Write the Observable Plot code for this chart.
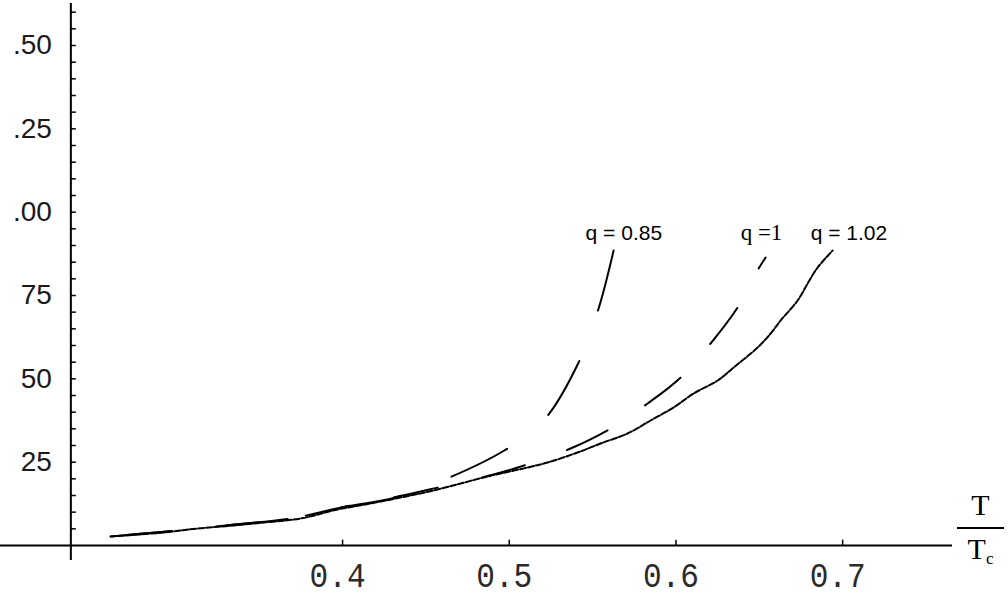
<!DOCTYPE html>
<html>
<head>
<meta charset="utf-8">
<script src="https://cdn.jsdelivr.net/npm/d3@7"></script>
<script src="https://cdn.jsdelivr.net/npm/@observablehq/plot@0.6"></script>
<style>
  html, body { margin: 0; padding: 0; background: #fff; }
  #wrap { position: relative; width: 1008px; height: 598px; overflow: hidden; }
  #frac { position: absolute; left: 957px; top: 490px; width: 47px; font-family: "Liberation Serif", serif; color: #000; text-align: center; }
  #frac .num { font-size: 30px; line-height: 30px; padding-bottom: 7px; border-bottom: 2px solid #000; }
  #frac .den { font-size: 30px; line-height: 30px; margin-top: 5px; }
  #frac .den span { font-size: 17px; vertical-align: -5px; }
</style>
</head>
<body>
<div id="wrap">
  <div id="chart"></div>
  <div id="frac"><div class="num">T</div><div class="den">T<span>c</span></div></div>
</div>
<script>
// ---- data ----
// q = 0.85 (from top end downwards)
const q085T = [0.5626, 0.5536, 0.5416, 0.5206, 0.496, 0.454, 0.43, 0.40, 0.37, 0.33, 0.29, 0.261];
const q085V = [0.885, 0.711, 0.549, 0.375, 0.282, 0.183, 0.142, 0.115, 0.082, 0.060, 0.040, 0.027];
// q = 1 (from top end downwards)
const q1T = [0.6538, 0.6496, 0.637, 0.6208, 0.6028, 0.583, 0.5608, 0.5368, 0.515, 0.49, 0.46, 0.43, 0.40, 0.37, 0.33, 0.29, 0.261];
const q1V = [0.864, 0.831, 0.714, 0.606, 0.504, 0.426, 0.351, 0.291, 0.250, 0.212, 0.177, 0.143, 0.115, 0.082, 0.060, 0.040, 0.027];
// q = 1.02 (from low end upwards)
const q102T = [0.2608, 0.2926, 0.313, 0.3346, 0.3526, 0.3748, 0.397, 0.4168, 0.4408, 0.4546, 0.4708, 0.4846, 0.4948, 0.511, 0.523, 0.541, 0.5548, 0.571, 0.5848, 0.5986, 0.6106, 0.625, 0.6346, 0.649, 0.6568, 0.6628, 0.673, 0.679, 0.685, 0.694];
const q102V = [0.027, 0.039, 0.051, 0.060, 0.069, 0.081, 0.108, 0.126, 0.150, 0.165, 0.186, 0.204, 0.216, 0.234, 0.249, 0.279, 0.306, 0.336, 0.375, 0.414, 0.456, 0.495, 0.534, 0.594, 0.636, 0.675, 0.735, 0.786, 0.834, 0.885];

const xTicks = [0.4, 0.5, 0.6, 0.7];
const xTickLabels = ["0.4", "0.5", "0.6", "0.7"];
const yTicks = [0.25, 0.5, 0.75, 1.0, 1.25, 1.5];
const yTickLabels = ["25", "50", "75", ".00", ".25", ".50"];
const yMinorTicks = d3.range(1, 33).map(k => k * 0.05);

const curveLabels = ["q = 0.85", "q =1", "q = 1.02"];
const curveLabelT = [0.5458, 0.6388, 0.6808];
const curveLabelV = [0.938, 0.938, 0.938];

const axisT = 0.237; // where the vertical axis crosses

const toRows = (T, V) => T.map((t, i) => ({t, v: V[i]}));

const chart = Plot.plot({
  width: 1008,
  height: 598,
  marginLeft: 0,
  marginRight: 56,
  marginTop: 0,
  marginBottom: 53,
  x: {domain: [0.1948, 0.7659], axis: null},
  y: {domain: [0, 1.635], axis: null},
  style: {background: "#fff", overflow: "visible", color: "#000"},
  marks: [
    Plot.ruleY([0], {stroke: "#000", strokeWidth: 2}),
    Plot.ruleX([axisT], {y1: -0.045, y2: 1.626, stroke: "#000", strokeWidth: 2}),
    Plot.ruleY(yMinorTicks, {y: d => d, x1: axisT, x2: axisT + 0.0033, stroke: "#000", strokeWidth: 1.5}),
    Plot.ruleX(xTicks, {x: d => d, y1: 0, y2: 0.016, stroke: "#000", strokeWidth: 1.5}),
    Plot.text(yTicks, {x: axisT, y: d => d, text: (d, i) => yTickLabels[i], textAnchor: "end", dx: -19, fontSize: 28, fontFamily: "Liberation Sans", fill: "#1a1a1a"}),
    Plot.text(xTicks, {x: d => d, y: 0, text: (d, i) => xTickLabels[i], textAnchor: "middle", dx: -5, dy: 30, fontSize: 35, fontFamily: "Liberation Mono", fill: "#2a2a2a"}),
    Plot.line(toRows(q102T, q102V), {x: "t", y: "v", curve: "catmull-rom", stroke: "#000", strokeWidth: 2, strokeDasharray: "6,2"}),
    Plot.line(toRows(q1T, q1V), {x: "t", y: "v", curve: "catmull-rom", stroke: "#000", strokeWidth: 2, strokeDasharray: "45,45", strokeDashoffset: 32}),
    Plot.line(toRows(q085T, q085V), {x: "t", y: "v", curve: "catmull-rom", stroke: "#000", strokeWidth: 2, strokeDasharray: "62,54"}),
    Plot.text([curveLabels[0]], {x: curveLabelT[0], y: curveLabelV[0], text: d => d, textAnchor: "start", fontSize: 21, fontFamily: "Liberation Sans"}),
    Plot.text([curveLabels[1]], {x: curveLabelT[1], y: curveLabelV[1], text: d => d, textAnchor: "start", fontSize: 23, fontFamily: "Liberation Serif"}),
    Plot.text([curveLabels[2]], {x: curveLabelT[2], y: curveLabelV[2], text: d => d, textAnchor: "start", fontSize: 21, fontFamily: "Liberation Sans"})
  ]
});

// narrow monospace look of the x tick labels: squeeze the glyphs horizontally
chart.querySelectorAll('g[font-family="Liberation Mono"] text').forEach(t => {
  t.setAttribute("textLength", "56");
  t.setAttribute("lengthAdjust", "spacingAndGlyphs");
});

document.getElementById("chart").appendChild(chart);
</script>
</body>
</html>
